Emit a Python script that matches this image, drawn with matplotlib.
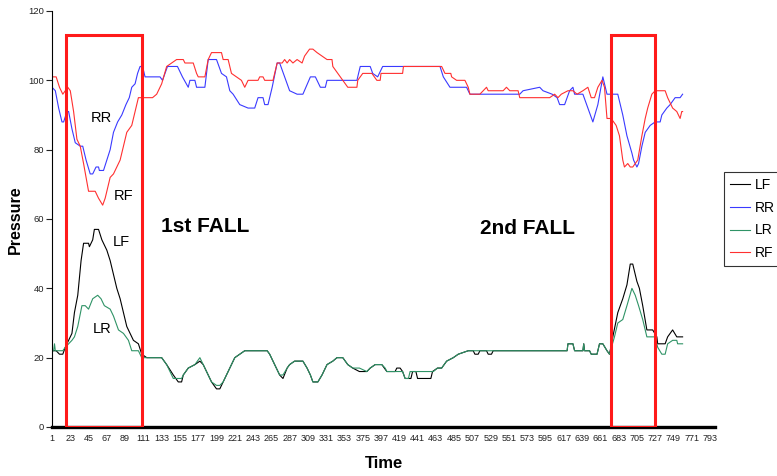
import matplotlib
matplotlib.use('Agg')
import matplotlib.pyplot as plt
from matplotlib.patches import Rectangle

plt.rcParams['font.family'] = ['Liberation Sans', 'DejaVu Sans']

# pressure traces as (time, value) knots
lf_t = [1, 6, 10, 14, 17, 21, 25, 28, 32, 36, 39, 45, 46, 50, 52, 57, 61, 67, 71, 75, 79, 83, 87, 91, 95, 99,
        105, 109, 115, 133, 139, 147, 153, 157, 159, 165, 173, 179, 183, 189, 193, 199, 203, 207, 211, 215,
        221, 227, 233, 260, 263, 269, 275, 279, 284, 287, 293, 303, 308, 312, 315, 321, 326, 332, 339, 344,
        351, 357, 363, 371, 380, 384, 390, 398, 404, 414, 416, 420, 423, 426, 433, 435, 439, 441, 457, 459,
        465, 470, 476, 484, 490, 502, 508, 510, 514, 516, 524, 526, 530, 532, 621, 622, 628, 630, 640, 641,
        642, 648, 650, 657, 660, 664, 669, 672, 676, 682, 688, 693, 697, 700, 705, 708, 712, 717, 724, 729,
        730, 739, 742, 748, 753, 760]
lf_v = [22, 22, 21, 21, 23, 25, 27, 33, 38, 48, 53, 53, 52, 54, 57, 57, 54, 51, 48, 44, 40, 37, 33, 29, 27, 25,
        24, 21, 20, 20, 18, 15, 13, 13, 15, 17, 18, 19, 18, 15, 13, 11, 11, 13, 15, 17,
        20, 21, 22, 22, 21, 18, 15, 14, 17, 18, 19, 19, 17, 15, 13, 13, 15, 18, 19, 20,
        20, 18, 17, 16, 16, 17, 18, 18, 16, 16, 17, 17, 16, 14, 14, 16, 16, 14, 14, 16,
        17, 17, 19, 20, 21, 22, 22, 21, 21, 22, 22, 21, 21, 22, 22, 24, 24, 22, 22, 24,
        22, 22, 21, 21, 24, 24, 22, 21, 26, 33, 37, 41, 47, 47, 42, 40, 35, 28, 28, 26,
        24, 24, 26, 28, 26, 26]

rr_t = [1, 5, 9, 13, 15, 19, 21, 25, 29, 35, 38, 42, 47, 50, 54, 57, 58, 63, 67, 71, 75, 80, 85, 90, 94, 97,
        101, 104, 107, 110, 113, 131, 134, 137, 140, 152, 158, 165, 167, 173, 175, 185, 189, 199, 205, 211,
        215, 219, 227, 237, 245, 249, 255, 257, 261, 266, 272, 275, 284, 287, 296, 303, 312, 318, 324, 330,
        332, 368, 372, 384, 387, 393, 399, 468, 472, 480, 500, 504, 564, 568, 588, 592, 603, 609, 612, 618,
        624, 628, 630, 640, 646, 652, 658, 664, 669, 682, 688, 693, 699, 701, 705, 707, 711, 715, 721, 727,
        733, 735, 741, 745, 751, 757, 760]
rr_v = [98, 97, 92, 88, 88, 91, 91, 86, 82, 81, 81, 77, 73, 73, 75, 75, 74, 74, 77, 80, 85, 88, 90, 93, 95, 98,
        99, 102, 104, 104, 101, 101, 100, 102, 104, 104, 101, 98, 100, 100, 98, 98, 106, 106, 102, 101,
        97, 96, 93, 92, 92, 95, 95, 93, 93, 98, 105, 105, 99, 97, 96, 96, 101, 101, 98, 98,
        100, 100, 104, 104, 102, 101, 104, 104, 101, 98, 98, 96, 96, 97, 98, 97, 96, 95, 93, 93,
        97, 98, 96, 96, 92, 88, 93, 101, 96, 96, 90, 84, 79, 77, 75, 76, 81, 85, 87, 88,
        88, 90, 92, 93, 95, 95, 96]

lr_t = [1, 3, 4, 5, 14, 17, 21, 25, 28, 32, 37, 41, 45, 50, 56, 60, 64, 71, 75, 81, 87, 93, 97, 105, 109,
        133, 139, 147, 157, 159, 165, 173, 179, 183, 189, 193, 199, 203, 207, 211, 215, 221, 227, 233, 260,
        263, 269, 275, 279, 284, 287, 293, 303, 308, 312, 315, 321, 326, 332, 339, 344, 351, 357, 363, 371,
        380, 384, 390, 398, 402, 404, 414, 423, 426, 430, 432, 460, 465, 470, 476, 484, 490, 502, 621, 622,
        628, 630, 640, 641, 642, 648, 650, 657, 660, 664, 669, 672, 678, 682, 688, 693, 699, 703, 707, 712,
        717, 727, 730, 735, 739, 742, 748, 753, 754, 760]
lr_v = [22, 22, 24, 22, 22, 23, 24, 25, 26, 29, 35, 35, 34, 37, 38, 37, 35, 34, 32, 28, 27, 25, 22, 22, 20,
        20, 18, 14, 14, 15, 17, 18, 20, 18, 15, 13, 12, 12, 13, 15, 17, 20, 21, 22, 22,
        21, 18, 15, 15, 17, 18, 19, 19, 17, 15, 13, 13, 15, 18, 19, 20, 20, 18, 17, 17,
        16, 17, 18, 18, 17, 16, 16, 16, 14, 14, 16, 16, 17, 17, 19, 20, 21, 22, 22, 24,
        24, 22, 22, 24, 22, 22, 21, 21, 24, 24, 22, 21, 26, 30, 31, 35, 40, 38, 35, 31,
        26, 26, 23, 21, 21, 24, 25, 25, 24, 24]

rf_t = [1, 6, 10, 14, 17, 20, 23, 27, 31, 35, 39, 45, 53, 57, 62, 65, 71, 75, 79, 83, 87, 91, 97, 101, 105,
        109, 122, 127, 133, 139, 145, 151, 159, 161, 171, 175, 177, 185, 189, 193, 205, 207, 213, 217, 223,
        229, 233, 237, 249, 251, 255, 257, 267, 272, 278, 281, 284, 287, 291, 296, 302, 305, 311, 315, 320,
        332, 338, 339, 345, 351, 357, 368, 369, 375, 386, 392, 396, 397, 423, 424, 470, 474, 481, 482, 488,
        498, 502, 504, 516, 520, 524, 526, 544, 548, 552, 562, 564, 600, 606, 610, 614, 622, 628, 633, 640,
        646, 650, 654, 658, 663, 666, 669, 674, 680, 684, 688, 690, 694, 697, 700, 706, 711, 715, 718, 723,
        727, 739, 742, 748, 753, 757, 759, 760]
rf_v = [101, 101, 98, 96, 97, 98, 97, 91, 83, 81, 76, 68, 68, 66, 64, 66, 72, 73, 75, 77, 81, 85, 87, 91, 95,
        95, 95, 96, 99, 104, 105, 106, 106, 105, 105, 102, 101, 101, 106, 108, 108, 106, 106, 102, 101,
        100, 98, 100, 100, 101, 101, 100, 100, 105, 105, 106, 105, 106, 105, 106, 105, 107, 109, 109, 108,
        106, 106, 104, 102, 100, 98, 98, 100, 102, 102, 100, 100, 102, 102, 104, 104, 102, 102, 101, 100,
        100, 98, 96, 96, 97, 98, 97, 97, 98, 97, 97, 95, 95, 96, 95, 96, 97, 97, 96, 97,
        98, 95, 95, 98, 100, 98, 89, 89, 87, 84, 77, 75, 76, 75, 75, 77, 84, 89, 92, 96,
        97, 97, 95, 92, 91, 89, 91, 91]

tick_labels = list(range(1, 794, 22))

# the two fall windows (time start, time end, height)
falls = [(18, 109, 113), (674, 727, 113)]

fig = plt.figure(figsize=(7.77, 4.76), dpi=100)
ax = fig.add_axes([52/777, 49/476, 663/777, 416/476])

ax.plot(lf_t, lf_v, color='#000000', lw=0.8, label='LF')
ax.plot(rr_t, rr_v, color='#3a3aff', lw=0.8, label='RR')
ax.plot(lr_t, lr_v, color='#2f9366', lw=0.8, label='LR')
ax.plot(rf_t, rf_v, color='#ff3030', lw=0.8, label='RF')

for t0, t1, h in falls:
    ax.add_patch(Rectangle((t0, 0), t1 - t0, h, fill=False, edgecolor='#ff1a1a', lw=2.2, zorder=5))

ax.set_xlim(1, 799)
ax.set_ylim(0, 120)
ax.set_yticks(range(0, 121, 20))
ax.set_xticks(tick_labels)
ax.set_xticklabels([str(t) for t in tick_labels])
ax.tick_params(axis='x', length=0, labelsize=6.5, pad=5, colors='#222222')
ax.tick_params(axis='y', length=4, width=0.8, labelsize=6.8, pad=1.5, colors='#222222')
for s in ['top', 'right']:
    ax.spines[s].set_visible(False)
ax.spines['bottom'].set_linewidth(2.4)
ax.spines['left'].set_linewidth(0.8)

ax.text(61, 89, 'RR', fontsize=10.5, ha='center', va='center')
ax.text(87, 66.5, 'RF', fontsize=10.5, ha='center', va='center')
ax.text(85, 53.3, 'LF', fontsize=10.5, ha='center', va='center')
ax.text(61, 28.3, 'LR', fontsize=10.5, ha='center', va='center')
ax.text(185, 57.7, '1st FALL', fontsize=15, fontweight='bold', ha='center', va='center')
ax.text(573, 57.4, '2nd FALL', fontsize=15, fontweight='bold', ha='center', va='center')

fig.text(15/777, 1 - 220/476, 'Pressure', rotation=90, fontsize=11.5, fontweight='bold', ha='center', va='center')
fig.text(384/777, 1 - 464/476, 'Time', fontsize=12, fontweight='bold', ha='center', va='center')

leg = fig.legend(loc='upper left', bbox_to_anchor=(724/777, 1 - 172/476), fontsize=10, frameon=True,
                 fancybox=False, handlelength=1.45, handletextpad=0.35, borderpad=0.45, labelspacing=0.62,
                 borderaxespad=0)
leg.get_frame().set_edgecolor('black')
leg.get_frame().set_linewidth(0.8)

plt.savefig('out.png', dpi=100)
